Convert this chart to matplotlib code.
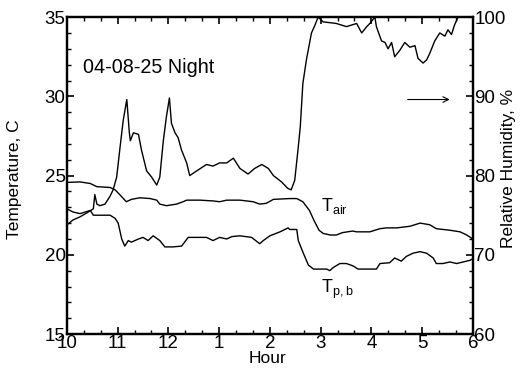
import matplotlib
matplotlib.use("Agg")
import matplotlib.pyplot as plt
from matplotlib.ticker import MultipleLocator

plt.rcParams['font.family'] = ['Liberation Sans', 'DejaVu Sans']
plt.rcParams['mathtext.fontset'] = 'custom'
plt.rcParams['mathtext.rm'] = 'Liberation Sans'

# hours after 10 pm
rh_hours = [0.0, 0.12, 0.26, 0.42, 0.52, 0.55, 0.59, 0.65, 0.75, 0.85, 0.91, 0.98, 1.04, 1.11, 1.18,
            1.23, 1.25, 1.31, 1.41, 1.47, 1.57, 1.67, 1.77, 1.83, 1.90, 1.96, 2.02, 2.06, 2.13, 2.19,
            2.26, 2.36, 2.42, 2.56, 2.75, 2.88, 3.01, 3.15, 3.28, 3.41, 3.57, 3.70, 3.84, 3.97, 4.07,
            4.23, 4.35, 4.42, 4.49, 4.56, 4.60, 4.65, 4.72, 4.82, 4.89, 4.95, 5.05, 5.31, 5.51, 5.71,
            5.81, 5.91, 5.97, 6.07, 6.10, 6.20, 6.27, 6.33, 6.40, 6.46, 6.56, 6.66, 6.76, 6.86, 6.92,
            7.02, 7.09, 7.15, 7.25, 7.35, 7.45, 7.51, 7.58, 7.64, 7.71, 7.75]
rh_values = [73.8, 74.4, 74.8, 75.4, 75.8, 77.6, 76.4, 76.2, 76.4, 77.4, 78.2, 79.8, 83.2, 87.0, 89.6,
             85.4, 84.4, 85.4, 85.2, 83.2, 80.6, 79.8, 78.8, 79.8, 84.4, 87.4, 89.8, 86.6, 85.4, 84.8,
             83.2, 81.6, 80.0, 80.6, 81.4, 81.2, 81.6, 81.6, 82.2, 80.9, 80.2, 80.9, 81.4, 80.9, 80.0,
             79.2, 78.4, 78.2, 79.4, 83.6, 86.2, 91.6, 94.6, 98.0, 99.0, 100.0, 99.4, 99.2, 98.8, 99.2,
             98.0, 98.8, 99.2, 100.0, 98.8, 97.0, 96.8, 96.0, 96.8, 95.0, 95.8, 96.8, 96.2, 96.4, 94.8,
             94.2, 94.6, 95.4, 97.0, 98.0, 97.6, 98.4, 97.8, 99.0, 100.0, 100.0]

tair_hours = [0.0, 0.26, 0.46, 0.59, 0.85, 0.95, 1.04, 1.17, 1.27, 1.44, 1.64, 1.77, 1.83, 1.96, 2.16,
              2.29, 2.36, 2.62, 2.88, 3.01, 3.15, 3.41, 3.67, 3.80, 3.93, 4.07, 4.39, 4.53, 4.65, 4.78,
              4.88, 4.97, 5.05, 5.19, 5.31, 5.43, 5.63, 5.71, 5.97, 6.17, 6.30, 6.50, 6.76, 6.96, 7.15,
              7.28, 7.55, 7.75, 7.88, 8.0]
tair_values = [24.57, 24.6, 24.5, 24.3, 24.25, 24.1, 23.8, 23.35, 23.5, 23.6, 23.55, 23.45, 23.2, 23.1, 23.2,
               23.35, 23.45, 23.45, 23.4, 23.35, 23.45, 23.45, 23.35, 23.2, 23.25, 23.5, 23.55, 23.55, 23.35, 22.8,
               22.1, 21.55, 21.35, 21.25, 21.25, 21.4, 21.5, 21.45, 21.45, 21.65, 21.7, 21.7, 21.8, 22.0, 21.9,
               21.65, 21.55, 21.45, 21.25, 21.0]

tpb_hours = [0.0, 0.12, 0.26, 0.46, 0.52, 0.72, 0.85, 0.95, 1.01, 1.08, 1.14, 1.21, 1.27, 1.41, 1.50,
             1.60, 1.70, 1.83, 1.93, 2.09, 2.26, 2.39, 2.56, 2.75, 2.88, 3.01, 3.15, 3.25, 3.41, 3.64,
             3.80, 3.87, 4.0, 4.20, 4.36, 4.39, 4.53, 4.56, 4.66, 4.76, 4.86, 4.99, 5.12, 5.18, 5.25,
             5.38, 5.51, 5.64, 5.74, 5.97, 6.10, 6.17, 6.36, 6.46, 6.59, 6.69, 6.82, 6.96, 7.09, 7.22,
             7.28, 7.41, 7.55, 7.68, 7.81, 7.94, 8.0]
tpb_values = [22.9, 22.7, 22.6, 22.8, 22.5, 22.5, 22.5, 22.3, 22.0, 21.0, 20.55, 20.9, 20.8, 21.0, 21.1,
              20.9, 21.2, 20.9, 20.5, 20.5, 20.55, 21.1, 21.1, 21.1, 20.9, 21.1, 21.0, 21.15, 21.2, 21.1,
              20.7, 20.9, 21.2, 21.45, 21.7, 21.6, 21.6, 20.9, 20.1, 19.35, 19.1, 19.1, 19.1, 19.0, 19.2,
              19.45, 19.45, 19.3, 19.1, 19.1, 19.1, 19.45, 19.5, 19.8, 19.6, 19.9, 20.1, 20.2, 20.1, 19.8,
              19.45, 19.45, 19.55, 19.45, 19.55, 19.65, 19.75]

hour_ticks = [0, 1, 2, 3, 4, 5, 6, 7, 8]
hour_labels = ['10', '11', '12', '1', '2', '3', '4', '5', '6']

fig = plt.figure(figsize=(5.23, 3.72), dpi=100)
ax = fig.add_axes([0.128, 0.102, 0.776, 0.852])
ax2 = ax.twinx()

ax.plot(tair_hours, tair_values, color='black', lw=1.0)
ax.plot(tpb_hours, tpb_values, color='black', lw=1.0)
ax2.plot(rh_hours, rh_values, color='black', lw=1.0)

ax.set_xlim(0, 8)
ax.set_ylim(15, 35)
ax2.set_ylim(60, 100)

ax.set_xticks(hour_ticks)
ax.set_xticklabels(hour_labels)
ax.xaxis.set_minor_locator(MultipleLocator(1/3))
ax.yaxis.set_major_locator(MultipleLocator(5))
ax.yaxis.set_minor_locator(MultipleLocator(1))
ax2.yaxis.set_major_locator(MultipleLocator(10))
ax2.yaxis.set_minor_locator(MultipleLocator(2))

ax.tick_params(axis='both', which='both', direction='in', top=True, labelsize=13.5, pad=1)
ax.tick_params(which='major', length=5, width=1.2)
ax.tick_params(which='minor', length=3, width=1.0)
ax.tick_params(axis='x', pad=1)
ax2.tick_params(axis='y', which='both', direction='in', labelsize=13.5, pad=1)
ax2.tick_params(which='major', length=5, width=1.2)
ax2.tick_params(which='minor', length=3, width=1.0)

for a in (ax, ax2):
    for s in a.spines.values():
        s.set_linewidth(1.6)

ax.set_ylabel('Temperature, C', fontsize=12.5)
ax.yaxis.set_label_coords(-0.111, 0.489)
ax2.set_ylabel('Relative Humidity, %', fontsize=12.5)
ax2.yaxis.set_label_coords(1.07, 0.524)
ax.set_xlabel('Hour', fontsize=12.5)
ax.xaxis.set_label_coords(0.493, -0.055)

ax.text(0.31, 31.85, '04-08-25 Night', fontsize=14.2, va='center', ha='left')
ax.text(5.0, 23.1, r'T$_{\mathregular{air}}$', fontsize=13, va='center', ha='left')
ax.text(5.0, 17.8, r'T$_{\mathregular{p,b}}$', fontsize=13, va='center', ha='left')
ax.annotate('', xy=(7.6, 29.8), xytext=(6.66, 29.8),
            arrowprops=dict(arrowstyle='->', color='black', lw=0.8))

fig.savefig('out.png', dpi=100)
